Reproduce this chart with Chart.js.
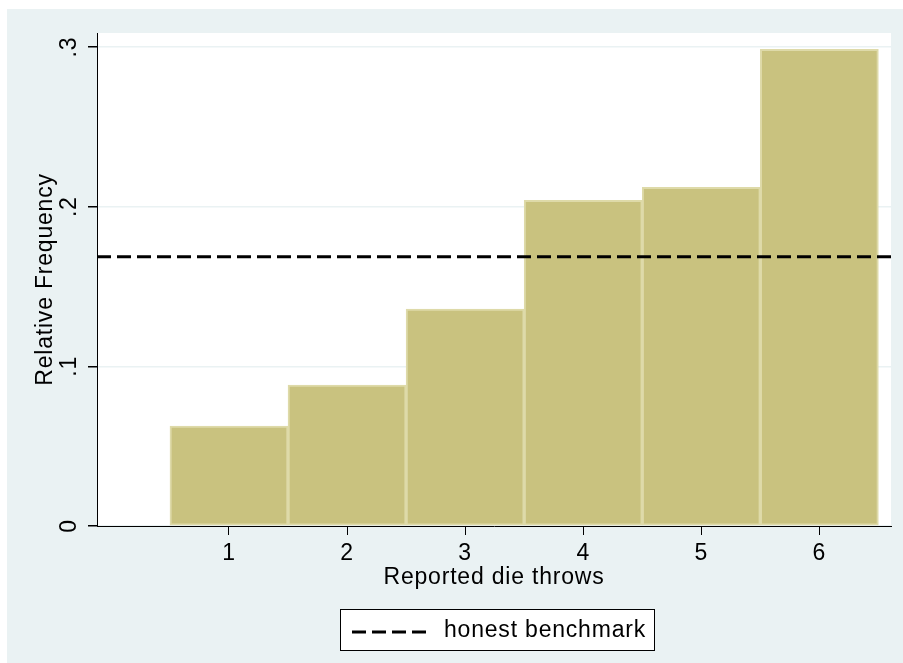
<!DOCTYPE html>
<html>
<head>
<meta charset="utf-8">
<script src="https://cdn.jsdelivr.net/npm/chart.js@4/dist/chart.umd.min.js"></script>
<style>
  body { margin: 0; background: #ffffff; }
  #wrap { position: absolute; left: 7px; top: 9px; width: 896px; height: 654px; background: #eaf2f3; }
</style>
</head>
<body>
<div id="wrap"><canvas id="histChart"></canvas></div>
<script>
// data
const dieFaces = [1, 2, 3, 4, 5, 6];
const relFreq = [0.0626, 0.0883, 0.1358, 0.2040, 0.2122, 0.2986];
const benchmark = 0.1687;
const yTicks = [0, 0.1, 0.2, 0.3];
const yTickLabels = ['0', '.1', '.2', '.3'];
const xRange = [-0.118, 6.607];
const yMax = 0.3088;

const FONT = '"Liberation Sans", Arial, sans-serif';
const FSIZE = 23;
const SPACING = '0.8px'; // Stata spaces its letters a bit wider

// white plot area, rotated y labels, legend box
const stataBits = {
  id: 'stataBits',
  beforeUpdate(chart) {
    chart.ctx.letterSpacing = SPACING;
  },
  beforeDraw(chart) {
    const a = chart.chartArea;
    const ctx = chart.ctx;
    ctx.letterSpacing = SPACING;
    ctx.save();
    ctx.fillStyle = '#ffffff';
    ctx.fillRect(a.left, a.top, a.right - a.left, a.bottom - a.top);
    ctx.restore();
  },
  afterDraw(chart) {
    const ctx = chart.ctx;
    const y = chart.scales.y;
    const a = chart.chartArea;
    ctx.save();
    ctx.fillStyle = '#000';
    ctx.font = FSIZE + 'px ' + FONT;
    ctx.textAlign = 'center';
    ctx.textBaseline = 'middle';
    yTicks.forEach((v, i) => {
      ctx.save();
      ctx.translate(63, y.getPixelForValue(v));
      ctx.rotate(-Math.PI / 2);
      ctx.fillText(yTickLabels[i], 0, 0);
      ctx.restore();
    });

    // legend
    const cx = (a.left + a.right) / 2 + 3;
    const bw = 314, bh = 41, top = 600;
    const left = cx - bw / 2;
    ctx.fillStyle = '#fff';
    ctx.fillRect(left, top, bw, bh);
    ctx.strokeStyle = '#000';
    ctx.lineWidth = 1;
    ctx.strokeRect(left + 0.5, top + 0.5, bw, bh);
    ctx.beginPath();
    ctx.setLineDash([14, 6]);
    ctx.lineWidth = 3;
    ctx.moveTo(left + 12, top + 23);
    ctx.lineTo(left + 88, top + 23);
    ctx.stroke();
    ctx.setLineDash([]);
    ctx.fillStyle = '#000';
    ctx.textAlign = 'left';
    ctx.textBaseline = 'middle';
    ctx.fillText('honest benchmark', left + 104, top + 22);
    ctx.restore();
  }
};

const ctx = document.getElementById('histChart').getContext('2d');
const histChart = new Chart(ctx, {
  type: 'bar',
  data: {
    datasets: [{
      type: 'line',
      label: 'honest benchmark',
      data: [{ x: xRange[0], y: benchmark }, { x: xRange[1], y: benchmark }],
      borderColor: '#000',
      borderWidth: 3,
      borderDash: [14, 6],
      pointRadius: 0,
      order: 0
    }, {
      label: 'Relative Frequency',
      data: dieFaces.map((f, i) => ({ x: f, y: relFreq[i] })),
      backgroundColor: '#c9c27f',
      borderColor: '#dedaa9',
      borderWidth: 2,
      borderSkipped: false,
      barPercentage: 1,
      categoryPercentage: 1,
      order: 1
    }]
  },
  options: {
    responsive: true,
    maintainAspectRatio: false,
    animation: false,
    layout: { padding: { top: 24, right: 12, left: 0, bottom: 68 } },
    plugins: {
      legend: { display: false },
      tooltip: { enabled: false }
    },
    scales: {
      x: {
        type: 'linear',
        min: xRange[0],
        max: xRange[1],
        offset: false,
        afterBuildTicks: s => { s.ticks = dieFaces.map(v => ({ value: v })); },
        afterFit: s => { s.height = 69; },
        ticks: { color: '#000', font: { family: FONT, size: FSIZE }, padding: 5 },
        grid: { drawOnChartArea: false, tickLength: 9, tickColor: '#000', offset: false },
        border: { color: '#000', width: 1 },
        title: { display: true, text: 'Reported die throws', color: '#000', font: { family: FONT, size: FSIZE }, padding: { top: 0, bottom: 4 } }
      },
      y: {
        min: 0,
        max: yMax,
        afterBuildTicks: s => { s.ticks = yTicks.map(v => ({ value: v })); },
        afterFit: s => { s.width = 90; },
        ticks: { display: false },
        grid: { color: '#eaf2f3', lineWidth: 1.5, tickLength: 9, tickColor: '#000' },
        border: { color: '#000', width: 1 },
        title: { display: true, text: 'Relative Frequency', color: '#000', font: { family: FONT, size: FSIZE }, padding: { top: 25, bottom: 0 } }
      }
    }
  },
  plugins: [stataBits]
});
</script>
</body>
</html>
